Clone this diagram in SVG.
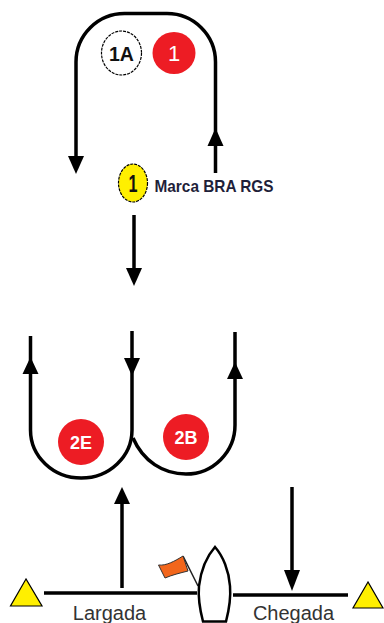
<svg xmlns="http://www.w3.org/2000/svg" width="384" height="623" viewBox="0 0 384 623">
  <style>
    text { font-family: "Liberation Sans", Arial, sans-serif; text-anchor: middle; }
    .line { fill: none; stroke: #000; stroke-width: 3.5; }
    .head { fill: #000; }
    .red { fill: #ed1c24; }
    .onred { fill: #fff; font-weight: bold; font-size: 18px; }
    .label { fill: #333; font-size: 20px; }
    .mark { fill: #ffef00; stroke: #000; stroke-width: 1.2; }
  </style>
  <rect width="384" height="623" fill="#fff"/>
  <g id="connectors">
    <path class="line" d="M76,158 V62 A48.500 48.500 0 0 1 124.500,13.500 H167 A48.500 48.500 0 0 1 215.500,62 V173"/>
    <polygon class="head" points="68,156 84,156 76,174"/>
    <polygon class="head" points="215.500,128 207.500,146 223.500,146"/>
    <path class="line" d="M134,215 V270"/>
    <polygon class="head" points="126,268 142,268 134,286"/>
    <path class="line" d="M30.500,336 V430 A50.750 48 0 0 0 132,430 V331"/>
    <polygon class="head" points="30.500,357 22.500,374 38.500,374"/>
    <polygon class="head" points="124,358 140,358 132,376"/>
    <path class="line" d="M133,438 C143,461 163,474 186,474 A49 49 0 0 0 235,425 V332"/>
    <polygon class="head" points="235,362 227,379 243,379"/>
    <path class="line" d="M122,588 V502"/>
    <polygon class="head" points="122,487 114,504 130,504"/>
    <path class="line" d="M292,487 V572"/>
    <polygon class="head" points="284,570 300,570 292,591"/>
    <path class="line" d="M44,593 H197"/>
    <path class="line" d="M233,595 H348"/>
  </g>
  <g id="mark-1A">
    <ellipse cx="121.500" cy="53" rx="20" ry="22" fill="#fff" stroke="#000" stroke-width="1.2" stroke-dasharray="3 1"/>
    <text x="121.500" y="60.500" font-size="21" font-weight="bold" fill="#111" textLength="25" lengthAdjust="spacingAndGlyphs">1A</text>
  </g>
  <g id="mark-1-red">
    <ellipse class="red" cx="174" cy="53" rx="21.500" ry="21"/>
    <text x="174" y="61" fill="#fff" font-size="22">1</text>
  </g>
  <g id="mark-1-yellow">
    <ellipse class="mark" cx="133" cy="183" rx="14.500" ry="19" stroke-dasharray="3 1"/>
    <text x="133" y="192" font-size="23" font-weight="bold" fill="#111" textLength="9" lengthAdjust="spacingAndGlyphs">1</text>
    <text x="214" y="192" font-size="17" font-weight="bold" fill="#1f1f3a" textLength="119" lengthAdjust="spacingAndGlyphs">Marca BRA RGS</text>
  </g>
  <g id="mark-2E">
    <circle class="red" cx="81" cy="442" r="23"/>
    <text class="onred" x="81" y="449">2E</text>
  </g>
  <g id="mark-2B">
    <circle class="red" cx="186" cy="437" r="23"/>
    <text class="onred" x="186" y="444">2B</text>
  </g>
  <g id="start-pin">
    <polygon class="mark" points="26,579 10.500,606 42,606"/>
  </g>
  <g id="finish-pin">
    <polygon class="mark" points="368,582 353,608 383,608"/>
  </g>
  <g id="committee-boat">
    <path d="M183,556 L198,586" fill="none" stroke="#222" stroke-width="1.500"/>
    <path d="M158.500,565 C166,566 175,561 183,556 L188,571 C180,573 172,575 165,578 Z" fill="#f2661b" stroke="#333" stroke-width="1"/>
    <path d="M203,621.500 C200,610 198,597 199,586 C201,570 207,556 215,547 C223,556 229,571 230,586 C231,598 229,610 226,621.500 Z" fill="#fff" stroke="#000" stroke-width="2.500"/>
  </g>
  <g id="labels">
    <text class="label" x="109.500" y="620">Largada</text>
    <text class="label" x="293.500" y="620">Chegada</text>
  </g>
</svg>
